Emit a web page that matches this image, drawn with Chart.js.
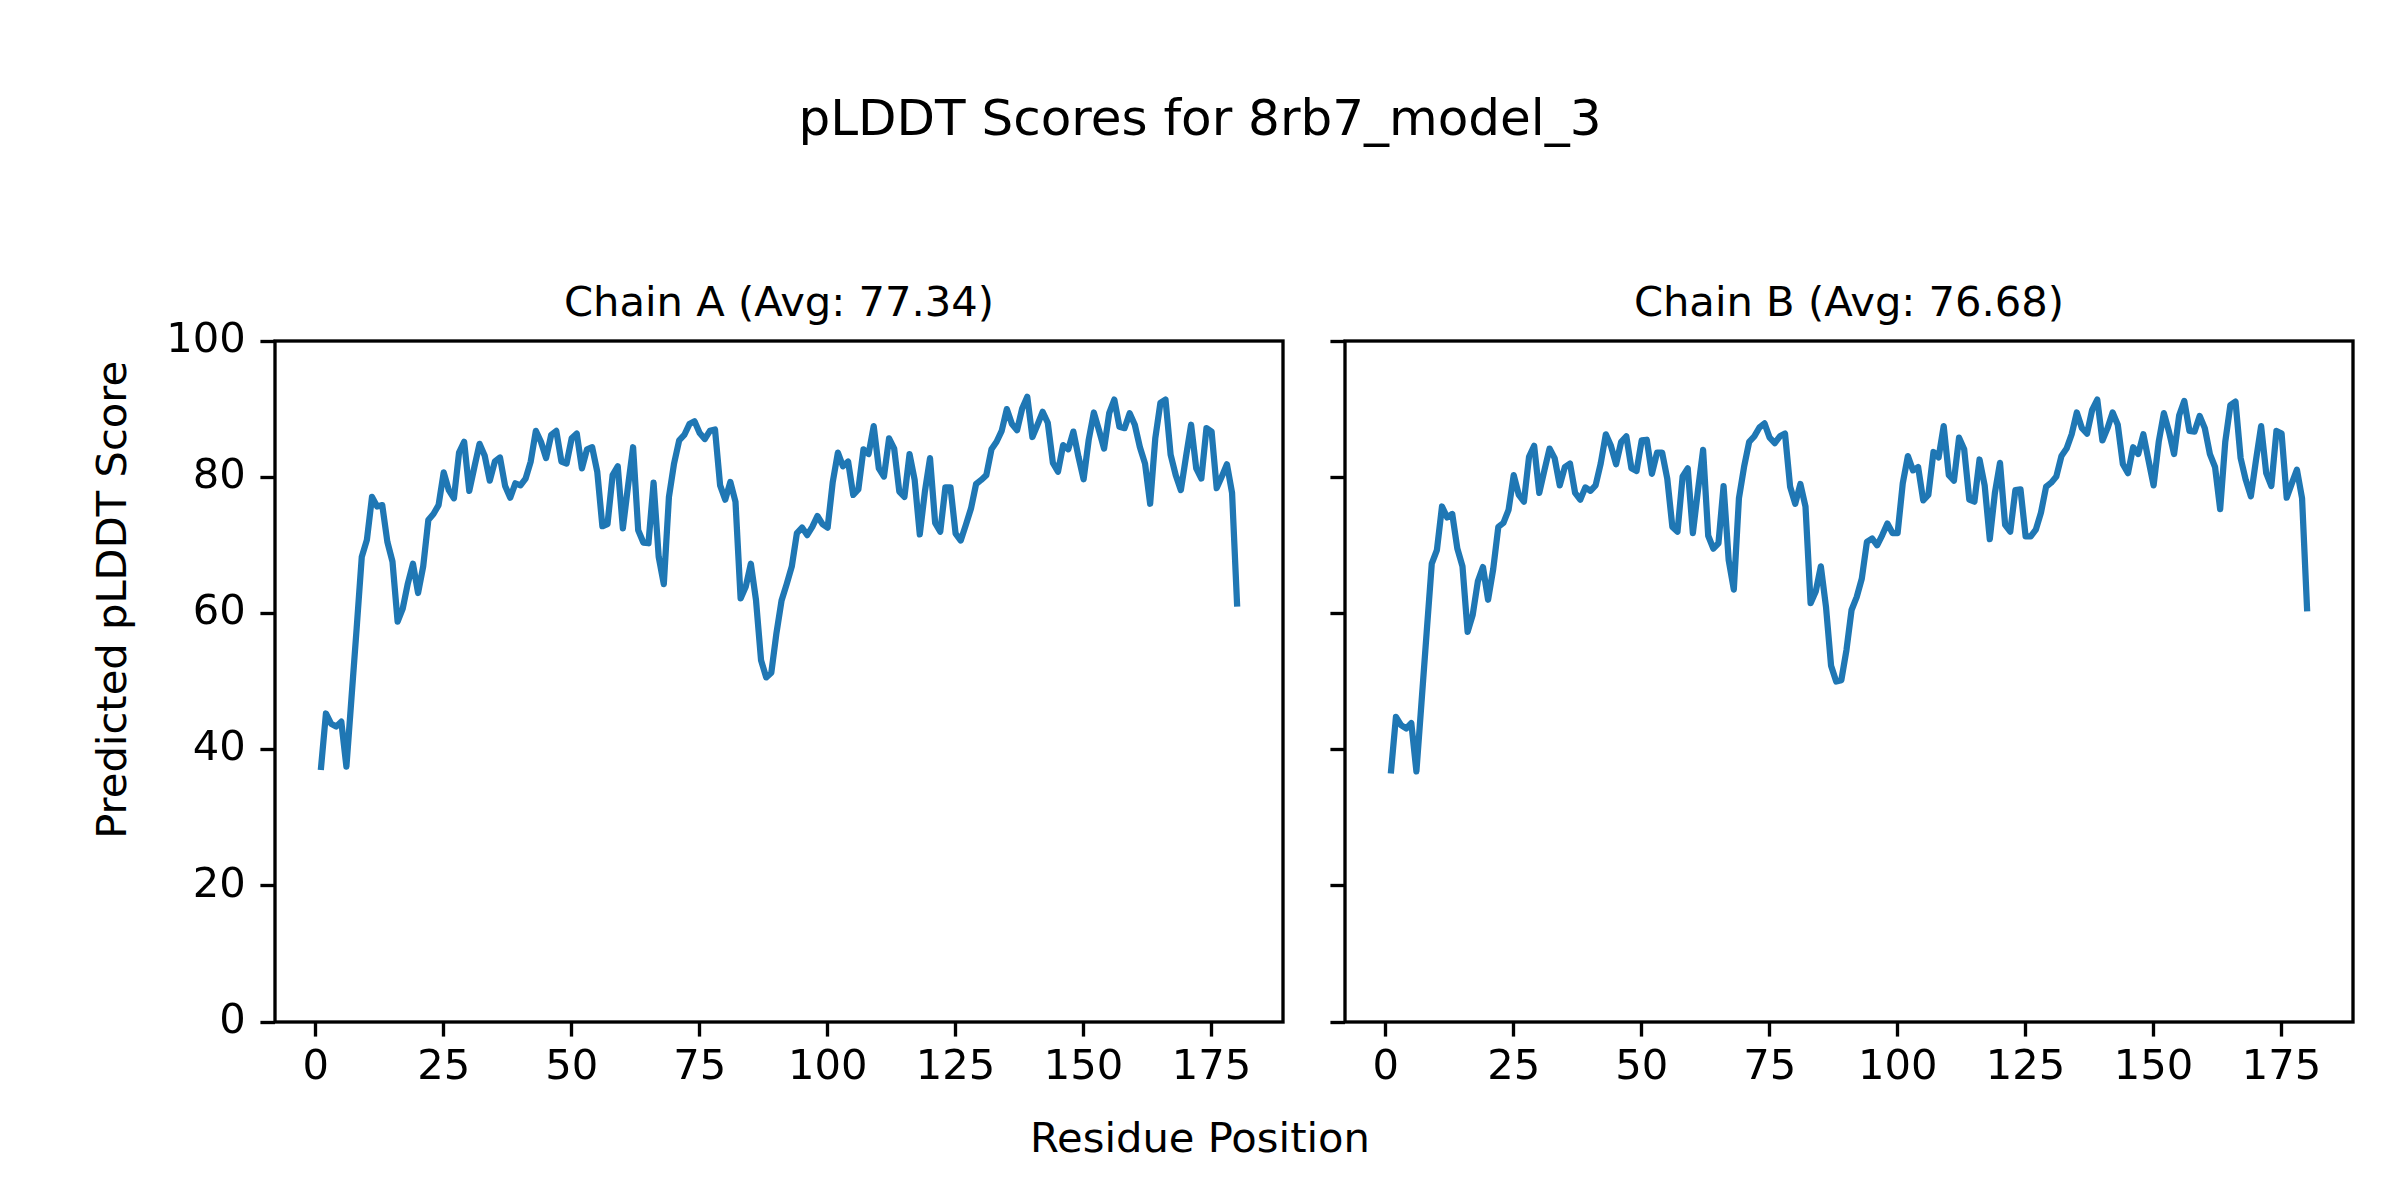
<!DOCTYPE html>
<html>
<head>
<meta charset="utf-8">
<script src="https://cdn.jsdelivr.net/npm/chart.js@4/dist/chart.umd.min.js"></script>
<style>
  html, body { margin: 0; padding: 0; background: #ffffff; }
  #fig { position: relative; width: 2400px; height: 1200px; background: #ffffff; overflow: hidden;
         font-family: "DejaVu Sans", sans-serif; color: #000; }
  .txt { position: absolute; white-space: nowrap; line-height: 1; text-align: center; }
  canvas { position: absolute; top: 0; }
</style>
</head>
<body>
<div id="fig">
  <div class="txt" id="suptitle" style="font-size:50px; left:0; width:2400px; top:92.7px;">pLDDT Scores for 8rb7_model_3</div>
  <div class="txt" id="titleA" style="font-size:41.67px; left:379px; width:800px; top:281.4px;">Chain A (Avg: 77.34)</div>
  <div class="txt" id="titleB" style="font-size:41.67px; left:1449px; width:800px; top:281.4px;">Chain B (Avg: 76.68)</div>
  <div class="txt" id="xlabel" style="font-size:41.67px; left:800px; width:800px; top:1116.7px;">Residue Position</div>
  <div class="txt" id="ylabel" style="font-size:41.67px; left:-287.8px; width:800px; top:579.2px; transform:rotate(-90deg); transform-origin:50% 50%;">Predicted pLDDT Score</div>
  <canvas id="chartA" width="1300" height="1200" style="left:0px;"></canvas>
  <canvas id="chartB" width="1100" height="1200" style="left:1300px;"></canvas>
</div>
<script>
// ---- data ----
const chainA = [
  37.0, 45.3, 43.8, 43.4, 44.1, 37.5, 47.7, 57.8, 68.3, 70.8,
  77.1, 75.7, 75.9, 70.5, 67.6, 58.8, 60.7, 64.4, 67.3, 63.0,
  66.9, 73.7, 74.6, 75.9, 80.7, 78.1, 76.9, 83.6, 85.2, 78.0,
  81.5, 84.9, 83.2, 79.5, 82.3, 82.9, 78.7, 77.0, 79.1, 78.8,
  79.8, 82.3, 86.8, 85.2, 82.8, 86.2, 86.8, 82.3, 82.0, 85.7,
  86.4, 81.3, 84.1, 84.4, 80.8, 72.8, 73.1, 80.3, 81.6, 72.5,
  78.6, 84.4, 72.2, 70.4, 70.3, 79.2, 68.3, 64.3, 77.1, 82.0,
  85.4, 86.2, 87.8, 88.2, 86.5, 85.6, 86.8, 87.0, 78.8, 76.7,
  79.3, 76.4, 62.2, 63.9, 67.3, 62.0, 53.1, 50.6, 51.3, 57.1,
  61.9, 64.3, 66.9, 71.8, 72.6, 71.5, 72.7, 74.3, 73.1, 72.6,
  79.3, 83.6, 81.6, 82.3, 77.4, 78.2, 84.1, 83.4, 87.5, 81.3,
  80.1, 85.7, 84.2, 77.9, 77.1, 83.4, 79.6, 71.6, 77.9, 82.8,
  73.3, 72.0, 78.5, 78.5, 71.7, 70.7, 73.0, 75.4, 79.0, 79.6,
  80.3, 84.1, 85.2, 86.8, 90.0, 87.8, 86.9, 90.1, 91.8, 85.9,
  87.7, 89.6, 88.0, 82.1, 80.8, 84.7, 84.1, 86.7, 83.0, 79.7,
  85.5, 89.5, 86.9, 84.2, 89.4, 91.4, 87.4, 87.2, 89.4, 87.7,
  84.4, 82.0, 76.1, 85.7, 90.9, 91.4, 83.3, 80.3, 78.1, 83.0,
  87.7, 81.3, 79.8, 87.2, 86.7, 78.4, 80.1, 81.9, 77.7, 61.0
];
const chainB = [
  36.5, 44.8, 43.6, 43.1, 43.9, 36.8, 47.0, 57.2, 67.3, 69.3,
  75.7, 74.1, 74.6, 69.5, 66.9, 57.3, 59.8, 64.7, 66.8, 62.0,
  66.5, 72.7, 73.3, 75.2, 80.3, 77.4, 76.4, 83.0, 84.6, 77.7,
  81.0, 84.2, 82.8, 78.8, 81.5, 82.0, 77.7, 76.7, 78.5, 78.0,
  78.8, 82.0, 86.3, 84.6, 81.9, 85.2, 86.0, 81.3, 80.9, 85.4,
  85.5, 80.5, 83.6, 83.6, 79.8, 72.7, 72.0, 80.1, 81.3, 71.8,
  78.1, 84.0, 71.4, 69.5, 70.3, 78.7, 67.8, 63.5, 76.9, 81.5,
  85.2, 86.0, 87.3, 87.9, 85.8, 85.0, 86.0, 86.4, 78.6, 76.1,
  79.0, 75.7, 61.5, 63.2, 66.9, 61.0, 52.3, 50.0, 50.2, 54.6,
  60.5, 62.4, 65.1, 70.5, 71.0, 70.0, 71.5, 73.2, 71.8, 71.8,
  79.1, 83.1, 81.0, 81.5, 76.6, 77.4, 83.7, 82.9, 87.5, 80.3,
  79.5, 85.8, 84.1, 76.7, 76.4, 82.6, 78.8, 70.9, 77.7, 82.1,
  73.0, 72.0, 78.1, 78.2, 71.3, 71.3, 72.3, 74.8, 78.6, 79.2,
  80.1, 83.1, 84.2, 86.3, 89.5, 87.2, 86.4, 89.9, 91.4, 85.4,
  87.2, 89.5, 87.7, 81.9, 80.6, 84.4, 83.4, 86.3, 82.5, 78.8,
  85.2, 89.4, 86.7, 83.4, 89.1, 91.2, 86.8, 86.7, 89.0, 87.2,
  83.4, 81.5, 75.3, 85.2, 90.6, 91.1, 82.8, 79.6, 77.2, 82.5,
  87.5, 80.6, 78.7, 86.8, 86.4, 77.0, 79.1, 81.1, 76.9, 60.3
];
const residues = chainA.map((_, i) => i + 1);
const xTicks = [0, 25, 50, 75, 100, 125, 150, 175];
const yTicks = [0, 20, 40, 60, 80, 100];

// ---- styling ----
const LINE_COLOR = '#1f77b4';
const SPINE_W = 3.33;
const TICK_LEN = 14.58;
const FONT = { family: 'DejaVu Sans', size: 41.67 };

const framePlugin = {
  id: 'frame',
  afterDraw(chart) {
    const a = chart.chartArea, ctx = chart.ctx;
    ctx.save();
    ctx.strokeStyle = '#000';
    ctx.lineWidth = SPINE_W;
    ctx.lineJoin = 'miter';
    ctx.strokeRect(a.left, a.top, a.right - a.left, a.bottom - a.top);
    ctx.restore();
  }
};

function makeChart(id, values, yWidth, padRight, showYLabels) {
  const data = residues.map((r, i) => ({ x: r, y: values[i] }));
  return new Chart(document.getElementById(id), {
    type: 'line',
    data: {
      datasets: [{
        data: data,
        borderColor: LINE_COLOR,
        borderWidth: 6.25,
        pointRadius: 0,
        pointHoverRadius: 0,
        tension: 0,
        fill: false,
        borderJoinStyle: 'round',
        borderCapStyle: 'butt'
      }]
    },
    options: {
      responsive: false,
      maintainAspectRatio: false,
      devicePixelRatio: 1,
      animation: false,
      events: [],
      layout: { padding: { top: 341, right: padRight, bottom: 0, left: 0 } },
      plugins: { legend: { display: false }, tooltip: { enabled: false }, title: { display: false } },
      scales: {
        x: {
          type: 'linear',
          min: -7.95,
          max: 188.95,
          afterBuildTicks: (s) => { s.ticks = xTicks.map(v => ({ value: v })); },
          afterFit: (s) => { s.height = 178; },
          border: { display: false },
          grid: { display: true, drawOnChartArea: false, drawTicks: true, tickLength: TICK_LEN,
                  tickWidth: SPINE_W, tickColor: '#000' },
          ticks: { color: '#000', font: FONT, padding: 7, maxRotation: 0, autoSkip: false }
        },
        y: {
          type: 'linear',
          min: 0,
          max: 100,
          afterBuildTicks: (s) => { s.ticks = yTicks.map(v => ({ value: v })); },
          afterFit: (s) => { s.width = yWidth; },
          border: { display: false },
          grid: { display: true, drawOnChartArea: false, drawTicks: true, tickLength: TICK_LEN,
                  tickWidth: SPINE_W, tickColor: '#000' },
          ticks: { display: showYLabels, color: '#000', font: FONT, padding: 14.58, autoSkip: false }
        }
      }
    },
    plugins: [framePlugin]
  });
}

makeChart('chartA', chainA, 275, 17, true);
makeChart('chartB', chainB, 45, 47, false);
</script>
</body>
</html>
